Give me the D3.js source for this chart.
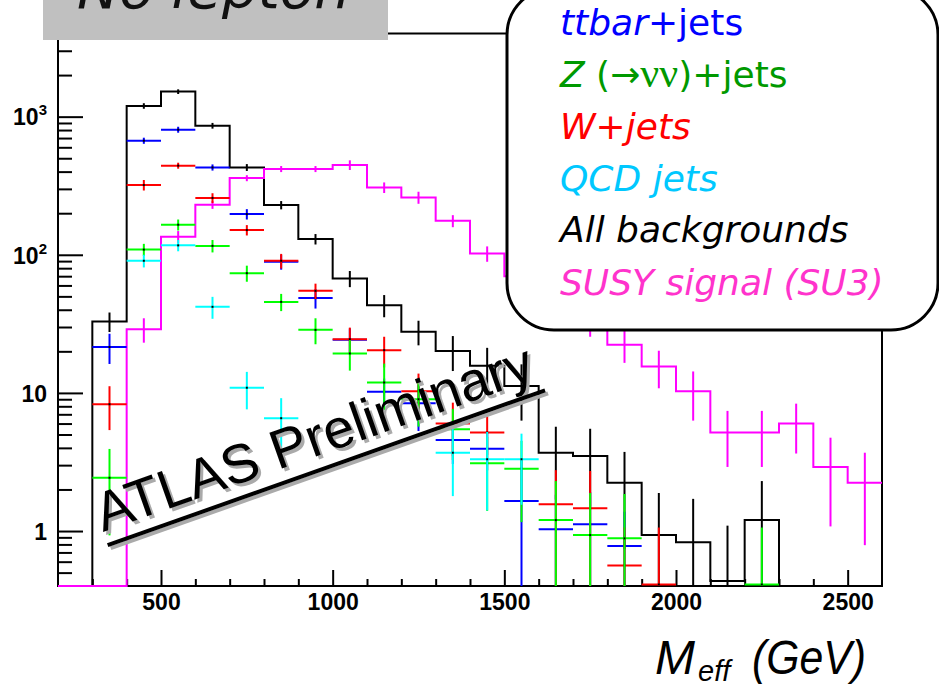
<!DOCTYPE html>
<html>
<head>
<meta charset="utf-8">
<script src="https://cdn.jsdelivr.net/npm/d3@7"></script>
<style>
  body { margin: 0; background: #fff; }
  svg { display: block; }
</style>
</head>
<body>
<div id="chart"></div>
<script>
// lower edges of the 100 GeV bins
var binLow = [200, 300, 400, 500, 600, 700, 800, 900, 1000, 1100, 1200, 1300,
              1400, 1500, 1600, 1700, 1800, 1900, 2000, 2100, 2200, 2300, 2400, 2500];
var binWidth = 100;

var allBkg    = [0, 32.9, 1196, 1518, 860, 429, 229, 130, 67.3, 43.2, 27.7, 20.1,
                 15.7, 11.2, 3.69, 3.5, 2.24, 0.935, 0.83, 0.434, 1.2, 0, 0, 0];
var allBkgErr = [0, 5.3, 55, 59, 41, 24.5, 15.8, 11.3, 9.0, 7.9, 5.6, 5.7,
                 5.5, 4.9, 2.0, 2.0, 1.5, 0.95, 0.88, 0.66, 1.1, 0, 0, 0];

var susy    = [0, 0, 28.9, 135, 230, 359, 418, 418, 447, 307, 260, 176,
               102, 70, 48, 32, 22.3, 15.5, 10.3, 5.16, 5.16, 6.0, 2.91, 2.24];
var susyErr = [0, 0, 5.8, 13.5, 15, 18, 21, 21, 36, 27, 26, 17.6,
               13, 10, 8, 6.5, 5.8, 4.7, 4.0, 2.25, 2.25, 2.36, 1.83, 1.45];

var ttbar    = [0, 21.5, 670, 805, 429, 197, 89, 48.6, 24.3, 10.2, 8.4, 4.56,
                3.95, 1.65, 1.03, 1.12, 0.78, 0, 0, 0, 0, 0, 0, 0];
var ttbarErr = [0, 5.3, 34, 40, 22, 17, 11, 7.8, 5, 2.5, 3.1, 1.5,
                1.2, 1.7, 0.8, 0.8, 0.6, 0, 0, 0, 0, 0, 0, 0];

var wjets    = [0, 8.28, 320, 442, 258, 151, 90.5, 54.8, 24.5, 20.4, 10.3, 6.0,
                5.16, 0, 1.56, 1.46, 0.564, 0.41, 0, 0, 0, 0, 0, 0];
var wjetsErr = [0, 2.9, 28, 22, 21, 13, 11, 7, 5.2, 5.1, 3.5, 2.5,
                1.6, 0, 1.2, 1.26, 0.5, 0.65, 0, 0, 0, 0, 0, 0];

var zjets    = [0, 2.43, 109, 165, 116, 73.6, 45.6, 28.6, 19.3, 11.9, 9.0, 5.46,
                3.1, 2.83, 1.2, 0.935, 0.885, 0, 0, 0, 0.41, 0, 0, 0];
var zjetsErr = [0, 1.5, 11, 15, 12, 9.8, 6.5, 6.1, 4.8, 4.4, 3.3, 2.2,
                1.7, 1.67, 1.1, 0.95, 0.97, 0, 0, 0, 0.65, 0, 0, 0];

var qcd    = [0, 0, 90.5, 117, 42, 10.9, 6.56, 0, 0, 0, 0, 3.69,
              3.31, 3.31, 0, 0, 0, 0, 0, 0, 0, 0, 0, 0];
var qcdErr = [0, 0, 9.5, 11, 7.6, 3.3, 2.6, 0, 0, 0, 0, 1.9,
              1.9, 1.76, 0, 0, 0, 0, 0, 0, 0, 0, 0, 0];

var xMajorTicks = [500, 1000, 1500, 2000, 2500];
var yMajorTicks = [1, 10, 100, 1000];

var width = 939, height = 689;
var xDomain = [200, 2600], yDomain = [0.4, 4000];

var x = d3.scaleLinear().domain(xDomain).range([58, 882]);
var y = d3.scaleLog().domain(yDomain).range([586, 33.5]);

// values under the frame bottom sit on the bottom line
function yp(v) {
    if (!(v > yDomain[0])) return y(yDomain[0]);
    return y(Math.min(v, yDomain[1]));
}

var svg = d3.select("#chart").append("svg")
    .attr("width", width)
    .attr("height", height)
    .attr("viewBox", [0, 0, width, height]);

svg.append("clipPath").attr("id", "plotclip")
  .append("rect")
    .attr("x", 57).attr("y", 33)
    .attr("width", 826).attr("height", 554);

// ---- axes (ROOT style: ticks pointing inward) ----
var xMinorTicks = d3.range(xDomain[0] + 100, xDomain[1], 100).filter(function(v) { return v % 500 !== 0; });
var yMinorTicks = [];
[0.1, 1, 10, 100, 1000].forEach(function(d) {
    for (var k = 2; k <= 9; k++) {
        var t = k * d;
        if (t > 0.45 && t < 3990) yMinorTicks.push(t);
    }
});

var axisG = svg.append("g");

axisG.append("g")
    .attr("transform", "translate(0,586)")
    .call(d3.axisBottom(x).tickValues(xMinorTicks).tickSize(-7).tickSizeOuter(0).tickFormat(""));
axisG.append("g")
    .attr("class", "xmajor")
    .attr("transform", "translate(0,586)")
    .call(d3.axisBottom(x).tickValues(xMajorTicks).tickSize(-16).tickSizeOuter(0).tickPadding(7).tickFormat(d3.format("d")));

axisG.append("g")
    .attr("transform", "translate(58,0)")
    .call(d3.axisLeft(y).tickValues(yMinorTicks).tickSize(-14).tickSizeOuter(0).tickFormat(""));
axisG.append("g")
    .attr("class", "ymajor")
    .attr("transform", "translate(58,0)")
    .call(d3.axisLeft(y).tickValues(yMajorTicks).tickSize(-25).tickSizeOuter(0).tickPadding(11));

axisG.selectAll(".domain").remove();
axisG.selectAll(".tick line").attr("stroke", "#000").attr("stroke-width", 2);
axisG.selectAll(".tick text")
    .attr("fill", "#000")
    .attr("font-family", "'Liberation Sans', Arial, sans-serif")
    .attr("font-weight", "bold");
axisG.selectAll(".xmajor .tick text").attr("font-size", 23).attr("dy", "0.75em");

axisG.selectAll(".ymajor .tick text").each(function(d) {
    var t = d3.select(this).attr("font-size", 23).attr("dy", "0.36em");
    var e = Math.round(Math.log10(d));
    t.text(null);
    if (e < 2) {
        t.text(d);
    } else {
        t.append("tspan").text("10");
        t.append("tspan").attr("dy", -10).attr("font-size", 15).text(e);
    }
});

svg.append("rect")
    .attr("x", 58).attr("y", 33.5)
    .attr("width", 824).attr("height", 552.5)
    .attr("fill", "none")
    .attr("stroke", "#000")
    .attr("stroke-width", 2);

// ---- plotted series ----
var plot = svg.append("g").attr("clip-path", "url(#plotclip)");

var stepLine = d3.line()
    .x(function(d) { return x(d.e); })
    .y(function(d) { return yp(d.v); })
    .curve(d3.curveStepAfter);

function histo(vals, errs, color) {
    var pts = binLow.map(function(e, i) { return {e: e, v: vals[i]}; });
    pts.push({e: binLow[binLow.length - 1] + binWidth, v: vals[vals.length - 1]});
    plot.append("path")
        .attr("d", stepLine(pts))
        .attr("fill", "none")
        .attr("stroke", color)
        .attr("stroke-width", 2);
    plot.append("g").selectAll("line")
        .data(binLow.map(function(e, i) { return i; }).filter(function(i) { return vals[i] > 0 && errs[i] > 0; }))
        .join("line")
        .attr("x1", function(i) { return x(binLow[i] + binWidth / 2); })
        .attr("x2", function(i) { return x(binLow[i] + binWidth / 2); })
        .attr("y1", function(i) { return yp(vals[i] - errs[i]); })
        .attr("y2", function(i) { return yp(vals[i] + errs[i]); })
        .attr("stroke", color)
        .attr("stroke-width", 2);
}

function crosses(vals, errs, color) {
    var idx = binLow.map(function(e, i) { return i; }).filter(function(i) { return vals[i] > 0; });
    var g = plot.append("g");
    g.selectAll("line.h").data(idx).join("line")
        .attr("class", "h")
        .attr("x1", function(i) { return x(binLow[i]); })
        .attr("x2", function(i) { return x(binLow[i] + binWidth); })
        .attr("y1", function(i) { return yp(vals[i]); })
        .attr("y2", function(i) { return yp(vals[i]); })
        .attr("stroke", color)
        .attr("stroke-width", 2);
    g.selectAll("line.v").data(idx).join("line")
        .attr("class", "v")
        .attr("x1", function(i) { return x(binLow[i] + binWidth / 2); })
        .attr("x2", function(i) { return x(binLow[i] + binWidth / 2); })
        .attr("y1", function(i) { return yp(vals[i] - errs[i]); })
        .attr("y2", function(i) { return yp(vals[i] + errs[i]); })
        .attr("stroke", color)
        .attr("stroke-width", 2);
    g.selectAll("rect").data(idx).join("rect")
        .attr("x", function(i) { return x(binLow[i] + binWidth / 2) - 1; })
        .attr("y", function(i) { return yp(vals[i]) - 1; })
        .attr("width", 2).attr("height", 2)
        .attr("fill", "#000");
}

histo(allBkg, allBkgErr, "#000");
histo(susy, susyErr, "#ff00ff");
crosses(ttbar, ttbarErr, "#0000ff");
crosses(wjets, wjetsErr, "#ff0000");
crosses(zjets, zjetsErr, "#00ff00");
crosses(qcd, qcdErr, "#00ffff");

// ---- ATLAS Preliminary stamp ----
function stamp(dx, dy, color) {
    var g = svg.append("g").attr("transform", "translate(" + (103 + dx) + "," + (532 + dy) + ") rotate(-19.5)");
    g.append("text")
        .attr("x", 0).attr("y", 0)
        .attr("font-family", "'Liberation Sans', Arial, sans-serif")
        .attr("font-size", 55)
        .attr("fill", color)
        .text("ATLAS Preliminary");
    g.append("line")
        .attr("x1", 0).attr("x2", 464)
        .attr("y1", 14).attr("y2", 14)
        .attr("stroke", color)
        .attr("stroke-width", 4);
}
stamp(3, 3, "#aaaaaa");
stamp(0, 0, "#000");

// ---- title box ----
svg.append("rect")
    .attr("x", 43).attr("y", 0)
    .attr("width", 345).attr("height", 40)
    .attr("fill", "#c0c0c0");
svg.append("text")
    .attr("x", 77).attr("y", 8)
    .attr("font-family", "'DejaVu Sans', sans-serif")
    .attr("font-style", "italic")
    .attr("font-size", 56)
    .attr("textLength", 273)
    .attr("lengthAdjust", "spacingAndGlyphs")
    .attr("fill", "#111")
    .text("No lepton");

// ---- legend ----
svg.append("rect")
    .attr("x", 507).attr("y", -12)
    .attr("width", 431).attr("height", 342)
    .attr("rx", 47).attr("ry", 47)
    .attr("fill", "#fff")
    .attr("stroke", "#000")
    .attr("stroke-width", 3);

var legendRows = [
    {color: "#0000ff", parts: [["ttbar", "italic"], ["+jets", "normal"]]},
    {color: "#009900", parts: [["Z", "italic"], [" (\u2192", "normal"], ["\u03bd\u03bd", "serif"], [")+jets", "normal"]]},
    {color: "#ff0000", parts: [["W+jets", "italic"]]},
    {color: "#00c8ff", parts: [["QCD jets", "italic"]]},
    {color: "#000000", parts: [["All backgrounds", "italic"]]},
    {color: "#ff33cc", parts: [["SUSY signal (SU3)", "italic"]]}
];
var legendBase = [35, 87.3, 139.3, 190.7, 242.3, 295];

var lg = svg.append("g")
    .attr("font-family", "'DejaVu Sans', sans-serif")
    .attr("font-size", 36);
legendRows.forEach(function(row, r) {
    var t = lg.append("text")
        .attr("x", 560).attr("y", legendBase[r])
        .attr("fill", row.color);
    row.parts.forEach(function(p) {
        var s = t.append("tspan").text(p[0]);
        if (p[1] === "italic") s.attr("font-style", "italic");
        if (p[1] === "serif") s.attr("font-family", "'Liberation Serif', 'DejaVu Serif', serif").attr("font-size", 42);
    });
});

// ---- x axis title ----
var tt = svg.append("g")
    .attr("font-family", "'Liberation Sans', Arial, sans-serif")
    .attr("font-style", "italic")
    .attr("fill", "#000");
tt.append("text").attr("x", 655).attr("y", 674).attr("font-size", 48).text("M");
tt.append("text").attr("x", 698).attr("y", 681).attr("font-size", 29).text("eff");
tt.append("text").attr("x", 752).attr("y", 674).attr("font-size", 48)
    .attr("textLength", 114).attr("lengthAdjust", "spacingAndGlyphs")
    .text("(GeV)");
</script>
</body>
</html>
